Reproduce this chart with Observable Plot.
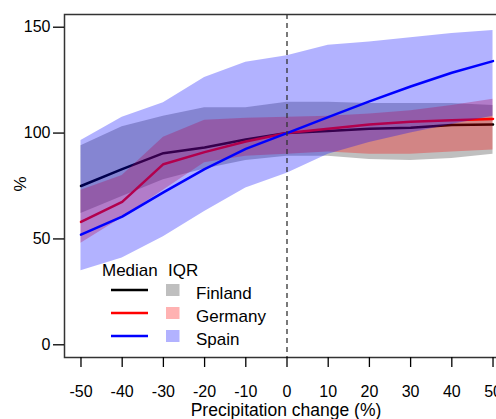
<!DOCTYPE html>
<html><head><meta charset="utf-8">
<script src="https://cdn.jsdelivr.net/npm/d3@7"></script>
<script src="https://cdn.jsdelivr.net/npm/@observablehq/plot@0.6"></script>
<style>
html,body{margin:0;padding:0;overflow:hidden;background:#fff;width:496px;height:419px;}
#chart{width:510px;}
#chart svg{overflow:visible;display:block;max-width:none !important;width:510px !important;height:419px !important;}
</style></head><body><div id="chart"></div>
<script>
const precip = [-50, -40, -30, -20, -10, 0, 10, 20, 30, 40, 50];
const countries = ["Finland", "Germany", "Spain"];

const finlandMedian = [75, 83, 90.5, 93.2, 97, 100, 101, 102, 102.5, 103.8, 104];
const finlandLower  = [62, 70, 78, 83, 87, 89, 89, 87.5, 87, 88, 90];
const finlandUpper  = [94, 103, 108, 112, 112, 114.5, 114.5, 114, 114, 114, 113];

const germanyMedian = [58, 67.5, 85.3, 91, 96, 100, 102, 104, 105.3, 106, 106.7];
const germanyLower  = [48, 60, 73, 86, 89, 90, 91, 90, 90, 91, 92];
const germanyUpper  = [73, 80, 98, 106, 107, 107.5, 108, 109, 110.5, 113, 116];

const spainMedian = [52, 60.5, 72, 83, 92.5, 100, 107.5, 115, 122, 128.5, 134];
const spainLower  = [35, 41, 51, 63, 74, 81, 90, 95.5, 100, 104, 108];
const spainUpper  = [96.5, 107.5, 114.3, 126.3, 133.5, 136.5, 141.5, 143, 145, 147, 148.5];

const xTicks = [-50, -40, -30, -20, -10, 0, 10, 20, 30, 40, 50];
const yTicks = [0, 50, 100, 150];

const lineColors = ["black", "red", "blue"];
const bandColors = ["#808080", "#ff0000", "#0000ff"];
const bandOpacity = [0.5, 0.3, 0.3];

const series = [
  [finlandMedian, finlandLower, finlandUpper],
  [germanyMedian, germanyLower, germanyUpper],
  [spainMedian, spainLower, spainUpper]
];

const tables = series.map(([med, lo, hi], i) =>
  precip.map((x, j) => ({country: countries[i], x, med: med[j], lo: lo[j], hi: hi[j]})));

const marks = [];
tables.forEach((rows, i) => {
  marks.push(Plot.areaY(rows, {x: "x", y1: "lo", y2: "hi", fill: bandColors[i], fillOpacity: bandOpacity[i]}));
  marks.push(Plot.line(rows, {x: "x", y: "med", stroke: lineColors[i], strokeWidth: 2.5}));
});
marks.push(Plot.ruleX([0], {stroke: "#333", strokeWidth: 1.3, strokeDasharray: "5,4"}));
marks.push(Plot.frame({stroke: "#333", strokeWidth: 1.5}));
marks.push(Plot.axisX({ticks: xTicks, tickSize: 10, tickPadding: 18, tickFormat: d => String(d), label: null, strokeWidth: 1.3}));
marks.push(Plot.axisY({ticks: yTicks, tickSize: 11, tickPadding: 3, tickFormat: d => String(d), label: null, strokeWidth: 1.3}));

const chart = Plot.plot({
  width: 510,
  height: 419,
  marginLeft: 64,
  marginRight: 1,
  marginTop: 14,
  marginBottom: 62,
  x: {domain: [-54, 54]},
  y: {domain: [-6, 156]},
  style: {fontFamily: "'Liberation Sans', Arial, sans-serif", fontSize: "16px", background: "white", color: "black", maxWidth: "none"},
  marks
});
chart.style.maxWidth = "none";
document.getElementById("chart").appendChild(chart);

const svg = d3.select(chart);
const font = "'Liberation Sans', Arial, sans-serif";
// axis titles
svg.append("text").attr("x", 286).attr("y", 415.5).attr("text-anchor", "middle")
  .attr("font-family", font).attr("font-size", "17.5px").attr("fill", "black").text("Precipitation change (%)");
svg.append("text").attr("transform", "translate(26,184) rotate(-90)").attr("text-anchor", "middle")
  .attr("font-family", font).attr("font-size", "17px").attr("fill", "black").text("%");

// legend
const lg = svg.append("g").attr("font-family", font).attr("font-size", "17px").attr("fill", "black").attr("text-anchor", "start");
lg.append("text").attr("x", 102).attr("y", 276).attr("text-anchor", "start").text("Median");
lg.append("text").attr("x", 168).attr("y", 276).attr("text-anchor", "start").text("IQR");
countries.forEach((c, i) => {
  const base = 299 + i * 23;
  lg.append("line").attr("x1", 111).attr("x2", 148).attr("y1", base - 9).attr("y2", base - 9)
    .attr("stroke", lineColors[i]).attr("stroke-width", 2.7);
  lg.append("rect").attr("x", 166).attr("y", base - 15).attr("width", 13.5).attr("height", 12)
    .attr("fill", bandColors[i]).attr("fill-opacity", bandOpacity[i]);
  lg.append("text").attr("x", 196).attr("y", base).attr("text-anchor", "start").text(c);
});
</script></body></html>
